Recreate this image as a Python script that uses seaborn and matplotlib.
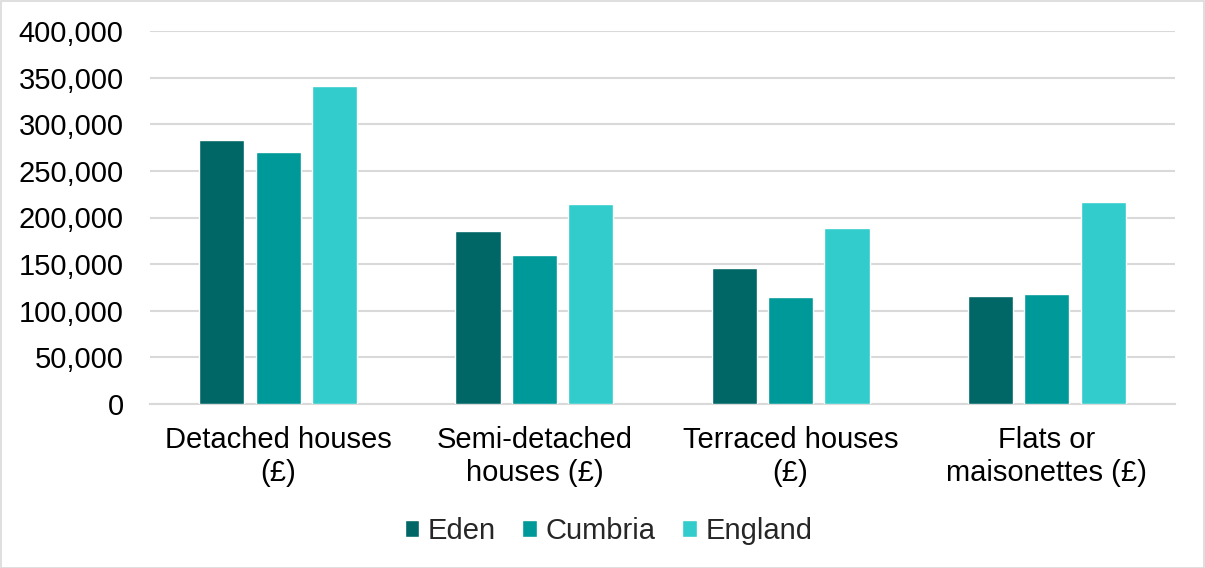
import matplotlib
matplotlib.use("Agg")
import matplotlib.pyplot as plt
import matplotlib.ticker as mticker
from matplotlib.patches import Rectangle
import seaborn as sns
import pandas as pd

categories = ["Detached houses\n(£)", "Semi-detached\nhouses (£)",
              "Terraced houses\n(£)", "Flats or\nmaisonettes (£)"]
areas = ["Eden", "Cumbria", "England"]
eden = [283000, 185000, 146000, 116000]
cumbria = [270000, 160000, 115000, 118000]
england = [340500, 215000, 189000, 216500]
colors = ["#006766", "#009999", "#33CCCC"]

df = pd.DataFrame({
    "category": categories * 3,
    "area": [a for a in areas for _ in categories],
    "price": eden + cumbria + england,
})

sns.set_theme(style="white")
plt.rcParams["font.family"] = ["Liberation Sans", "DejaVu Sans"]

fig = plt.figure(figsize=(12.05, 5.68), dpi=100)
ax = fig.add_axes([150 / 1205, 1 - 404 / 568, 1025 / 1205, 373 / 568])

sns.barplot(data=df, x="category", y="price", hue="area", order=categories,
            hue_order=areas, palette=colors, width=0.66, gap=0.2,
            saturation=1, ax=ax, errorbar=None, zorder=3)

ax.set_ylim(0, 400000)
ax.set_xlim(-0.5, 3.5)
ax.yaxis.set_major_locator(mticker.MultipleLocator(50000))
ax.yaxis.set_major_formatter(mticker.FuncFormatter(lambda v, _: f"{int(v):,}"))
ax.grid(axis="y", color="#d9d9d9", linewidth=1.5, zorder=0)
ax.set_axisbelow(True)
for s in ["top", "right", "left"]:
    ax.spines[s].set_visible(False)
ax.spines["bottom"].set_color("#d9d9d9")
ax.spines["bottom"].set_linewidth(1.5)
ax.tick_params(axis="y", length=0, pad=19, labelsize=21, labelcolor="#000000")
ax.tick_params(axis="x", length=0, pad=16, labelsize=21, labelcolor="#000000")
for lbl in ax.get_xticklabels():
    lbl.set_linespacing(1.2)
ax.set_xlabel("")
ax.set_ylabel("")

handles, labels = ax.get_legend_handles_labels()
ax.legend(handles, labels, loc="center", bbox_to_anchor=(0.505, 1 - 531 / 568),
          bbox_transform=fig.transFigure, ncol=3, frameon=False, fontsize=21,
          handlelength=0.5, handleheight=0.5, handletextpad=0.3,
          columnspacing=0.9)

fig.patches.append(Rectangle((0.5 / 1205, 0.5 / 568), 1 - 1.5 / 1205, 1 - 1.5 / 568,
                             transform=fig.transFigure, fill=False,
                             edgecolor="#d9d9d9", linewidth=1.2))

fig.savefig("out.png", dpi=100)
